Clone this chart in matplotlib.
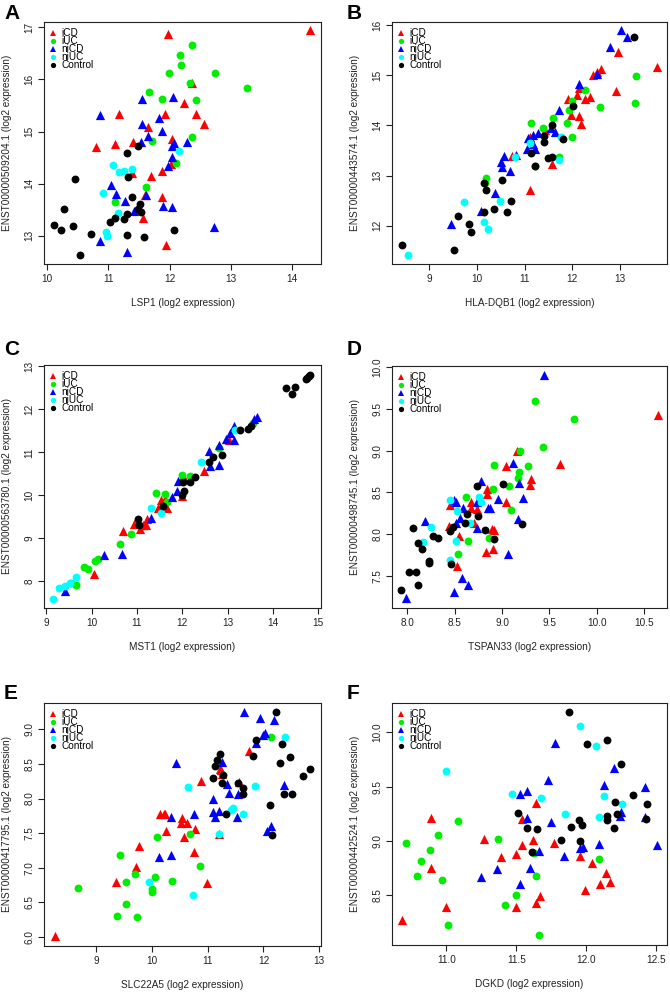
import matplotlib
matplotlib.use("Agg")
import matplotlib.pyplot as plt
from matplotlib.lines import Line2D

plt.rcParams['font.family'] = ['Liberation Sans', 'DejaVu Sans']

groups = ["iCD", "iUC", "niCD", "niUC", "Control"]
colors = {"iCD": "#FF0000", "iUC": "#00EE00", "niCD": "#0000FF", "niUC": "#00FFFF", "Control": "#000000"}
markers = {"iCD": "^", "iUC": "o", "niCD": "^", "niUC": "o", "Control": "o"}

# ---------------- Panel A ----------------
A_iCD = [(11.97,16.87),(14.30,16.95),(12.36,15.94),(12.23,15.54),(11.17,15.33),(11.93,15.33),(12.44,15.34),
         (12.57,15.15),(11.64,15.08),(10.80,14.71),(11.11,14.77),(11.40,14.79),(12.04,14.85),(12.03,14.38),
         (11.70,14.14),(11.87,14.25),(11.38,14.21),(11.60,13.78),(11.87,13.75),(11.57,13.35),(11.95,12.83)]
A_iUC = [(12.36,16.65),(12.17,16.47),(12.19,16.28),(11.99,16.13),(12.74,16.13),(13.27,15.83),(12.34,15.94),
         (11.66,15.75),(11.87,15.62),(12.43,15.60),(11.71,14.82),(12.36,14.90),(12.10,14.39),(11.62,13.93),
         (11.11,13.65)]
A_niCD = [(10.86,15.32),(11.55,15.63),(12.06,15.66),(11.83,15.26),(11.55,15.15),(11.64,14.91),(11.87,15.01),
          (11.54,14.79),(12.08,14.78),(12.28,14.80),(12.04,14.73),(12.04,14.51),(11.98,14.33),(11.05,13.98),
          (11.12,13.80),(11.61,13.78),(11.27,13.66),(11.90,13.58),(12.04,13.56),(11.42,13.47),(12.73,13.16),
          (10.86,12.90),(11.30,12.69)]
A_niUC = [(12.15,14.63),(11.08,14.35),(11.38,14.29),(11.25,14.25),(11.17,14.23),(10.91,13.82),(11.15,13.43),
          (10.96,13.08),(10.97,13.00)]
A_Control = [(11.49,14.73),(11.30,14.58),(11.32,14.13),(10.45,14.09),(10.27,13.51),(11.38,13.75),(11.52,13.61),
             (11.49,13.52),(11.54,13.45),(11.30,13.42),(11.10,13.34),(11.26,13.33),(11.03,13.26),(10.11,13.20),
             (10.42,13.19),(10.22,13.11),(12.07,13.12),(10.71,13.03),(11.30,13.01),(11.58,12.97),(10.54,12.64)]

# ---------------- Panel B ----------------
B_iCD = [(13.78,15.16),(12.96,15.46),(12.59,15.12),(12.43,15.00),(12.52,15.06),(12.91,14.68),(12.13,14.74),
         (12.09,14.61),(12.36,14.56),(12.26,14.53),(11.91,14.53),(11.97,14.21),(12.14,14.19),(12.19,14.03),
         (11.42,13.91),(11.12,13.76),(10.73,13.40),(11.58,13.24),(11.12,12.71)]
B_iUC = [(13.34,14.98),(13.30,14.45),(12.58,14.37),(12.27,14.71),(11.99,14.48),(11.93,14.30),(11.60,14.15),
         (11.13,14.05),(11.88,14.05),(11.38,13.95),(11.99,13.77),(11.72,13.38),(11.22,13.20),(10.19,12.96),
         (10.17,12.85)]
B_niCD = [(13.01,15.90),(13.14,15.77),(12.79,15.57),(12.52,15.03),(12.13,14.82),(11.72,14.30),(11.55,13.94),
          (11.64,13.86),(11.28,13.85),(11.18,13.81),(11.07,13.75),(11.18,13.63),(11.04,13.53),(11.21,13.53),
          (10.57,13.39),(10.83,13.42),(10.51,13.27),(10.53,13.18),(10.70,13.09),(10.38,12.66),(10.08,12.29),
          (9.46,12.04)]
B_niUC = [(10.79,13.38),(11.12,13.65),(11.76,13.76),(11.71,13.32),(9.74,12.47),(10.49,12.49),(10.15,12.08),
          (10.24,11.93),(8.55,11.42)]
B_Control = [(13.28,15.77),(12.02,14.38),(11.58,14.01),(11.40,13.79),(11.40,13.67),(11.81,13.73),(11.13,13.46),
             (11.50,13.36),(11.57,13.38),(11.21,13.20),(10.52,12.92),(10.15,12.85),(10.20,12.71),(10.71,12.50),
             (10.35,12.33),(10.16,12.28),(10.64,12.28),(9.60,12.19),(9.84,12.04),(9.88,11.87),(8.43,11.61),
             (9.53,11.51)]

# ---------------- Panel C ----------------
C_iCD = [(13.03,11.29),(12.47,10.56),(12.02,10.45),(11.99,9.98),(11.54,9.88),(11.61,9.92),(11.46,9.70),
         (11.67,9.70),(11.23,9.46),(11.19,9.32),(11.14,9.30),(11.06,9.21),(10.93,9.33),(10.70,9.18),(10.06,8.18)]
C_iUC = [(13.55,11.68),(12.82,11.10),(12.16,10.45),(11.99,10.48),(11.61,10.04),(11.43,10.05),(11.67,9.84),
         (10.88,9.11),(10.62,8.87),(10.14,8.53),(10.08,8.48),(9.84,8.34),(9.92,8.28),(9.55,7.96),(9.66,7.91)]
C_niCD = [(13.64,11.83),(13.58,11.78),(13.15,11.62),(13.15,11.29),(13.05,11.45),(12.96,11.31),(12.81,11.17),
          (12.58,11.02),(12.61,10.68),(12.82,10.70),(11.91,10.34),(11.89,10.10),(11.78,9.97),(11.31,9.48),
          (10.66,8.64),(10.27,8.62),(9.41,7.78)]
C_niUC = [(13.17,11.51),(12.42,10.77),(11.32,9.70),(11.54,9.59),(9.66,8.10),(9.52,7.95),(9.29,7.85),
          (9.41,7.88),(9.15,7.58)]
C_Control = [(14.80,12.78),(14.76,12.72),(14.82,12.80),(14.72,12.71),(14.28,12.49),(14.41,12.36),(14.48,12.53),
             (13.27,11.53),(13.44,11.55),(13.51,11.61),(12.88,10.93),(12.68,10.88),(12.60,10.77),(12.29,10.42),
             (12.18,10.30),(12.02,10.31),(12.04,10.10),(11.99,10.01),(11.57,9.76),(11.03,9.45),(11.04,9.32)]

# ---------------- Panel D ----------------
D_iCD = [(10.64,9.42),(9.61,8.84),(9.16,8.99),(9.04,8.81),(9.31,8.66),(9.29,8.59),(8.84,8.54),(8.84,8.48),
         (9.04,8.39),(8.67,8.39),(8.45,8.35),(8.67,8.31),(8.74,8.30),(8.70,8.14),(8.44,8.10),(8.55,7.98),
         (8.89,8.06),(8.92,8.05),(8.83,7.79),(8.91,7.83),(8.53,7.62)]
D_iUC = [(9.35,9.59),(9.76,9.38),(9.43,9.04),(9.19,8.99),(8.92,8.83),(9.27,8.81),(9.18,8.75),(9.17,8.67),
         (8.91,8.54),(9.07,8.58),(8.62,8.45),(9.09,8.29),(8.86,7.96),(8.64,7.92),(8.54,7.77)]
D_niCD = [(9.44,9.90),(9.12,8.85),(8.78,8.64),(9.18,8.61),(9.22,8.43),(8.96,8.42),(8.49,8.41),(8.51,8.38),
          (8.74,8.38),(8.59,8.31),(8.85,8.31),(8.87,8.31),(8.56,8.19),(8.52,8.14),(9.17,8.18),(8.74,8.08),
          (8.19,8.16),(9.06,7.77),(8.58,7.48),(8.64,7.40),(8.49,7.31),(7.99,7.24)]
D_niUC = [(8.45,8.41),(8.76,8.45),(8.78,8.38),(8.53,8.28),(8.66,8.14),(8.25,8.09),(8.17,7.91),(8.51,7.92),
          (8.45,7.69)]
D_Control = [(8.74,8.58),(9.01,8.60),(8.75,8.22),(8.63,8.24),(8.61,8.14),(8.48,8.09),(8.45,8.04),(8.82,8.05),
             (9.21,8.12),(8.92,7.94),(8.06,8.08),(8.27,7.98),(8.32,7.95),(8.11,7.90),(8.16,7.83),(8.23,7.68),
             (8.23,7.66),(8.02,7.55),(8.09,7.55),(8.46,7.64),(8.11,7.40),(7.94,7.34)]

# ---------------- Panel E ----------------
E_iCD = [(8.27,6.02),(9.36,6.79),(9.71,7.01),(9.78,7.31),(10.76,7.23),(10.98,6.78),(10.25,7.53),(10.58,7.44),
         (10.77,7.56),(10.54,7.72),(10.63,7.65),(10.53,7.65),(10.14,7.78),(10.24,7.77),(10.21,7.78),(10.89,8.26),
         (11.20,7.49),(11.24,8.41),(11.22,8.42),(11.26,8.36),(11.56,8.24),(11.74,8.69)]
E_iUC = [(8.68,6.71),(9.43,7.19),(9.38,6.30),(9.53,6.79),(9.53,6.47),(9.70,6.91),(9.74,6.29),(10.00,6.65),
         (10.01,6.70),(10.06,6.86),(10.10,7.44),(10.37,6.81),(10.69,7.49),(10.87,7.02),(12.14,8.89)]
E_niCD = [(11.66,9.25),(11.94,9.17),(12.19,9.14),(11.99,8.92),(12.03,8.95),(11.86,8.80),(10.43,8.52),
          (11.25,8.53),(11.34,8.21),(11.38,8.08),(11.54,8.07),(12.37,8.19),(11.10,8.00),(10.76,7.78),
          (11.10,7.80),(11.21,7.82),(11.13,7.73),(11.52,7.74),(10.34,7.74),(12.13,7.61),(12.07,7.53),
          (10.13,7.15),(10.34,7.18)]
E_niUC = [(12.38,8.89),(10.65,8.16),(11.84,8.18),(11.46,7.87),(11.42,7.84),(11.63,7.77),(11.20,7.49),
          (9.95,6.80),(10.73,6.60)]
E_Control = [(12.23,9.25),(11.86,8.84),(12.33,8.79),(11.82,8.61),(11.23,8.64),(11.17,8.56),(11.14,8.47),
             (12.47,8.60),(12.30,8.52),(12.84,8.43),(12.70,8.32),(11.10,8.29),(11.27,8.34),(11.26,8.23),
             (11.55,8.22),(11.63,8.15),(11.64,8.06),(12.36,8.06),(12.51,8.07),(12.12,7.90),(11.33,7.78),
             (12.16,7.48)]

# ---------------- Panel F ----------------
F_iCD = [(10.68,8.27),(10.89,9.21),(10.89,8.75),(11.00,8.39),(11.27,9.02),(11.39,8.85),(11.50,8.88),
         (11.54,8.96),(11.54,9.20),(11.62,9.01),(11.64,9.35),(11.50,8.39),(11.64,8.43),(11.67,8.49),
         (11.77,8.98),(11.96,8.86),(12.04,8.80),(12.14,8.70),(12.17,8.62),(12.10,8.60),(11.99,8.55)]
F_iUC = [(10.71,8.98),(10.79,8.68),(10.82,8.81),(10.88,8.92),(10.94,9.05),(10.97,8.64),(11.08,9.18),
         (11.01,8.22),(11.37,9.02),(11.42,8.41),(11.50,8.50),(11.63,8.89),(11.64,8.68),(11.66,8.13),(12.09,8.83)]
F_niCD = [(11.78,9.90),(12.20,9.67),(11.73,9.56),(11.58,9.46),(11.53,9.43),(12.13,9.51),(12.42,9.50),
          (11.58,9.21),(11.75,9.17),(12.25,9.27),(12.24,9.23),(12.42,9.22),(11.25,8.67),(11.36,8.74),
          (11.53,8.60),(11.60,8.75),(11.66,8.91),(11.84,8.86),(11.96,8.93),(11.98,8.94),(12.09,8.97),(12.51,8.96)]
F_niUC = [(11.00,9.64),(11.47,9.43),(11.68,9.39),(11.96,10.06),(12.07,9.87),(11.85,9.25),(12.13,9.41),
          (12.09,9.22),(12.26,9.34)]
F_Control = [(11.88,10.19),(12.01,9.89),(12.15,9.93),(12.25,9.71),(12.34,9.42),(12.44,9.34),(12.21,9.36),
             (11.51,9.26),(11.58,9.12),(11.65,9.11),(11.61,8.90),(11.82,9.01),(11.89,9.13),(11.95,9.19),
             (11.97,9.15),(11.96,9.00),(12.15,9.23),(12.15,9.19),(12.22,9.25),(12.20,9.12),(12.43,9.20)]

# axis text / ticks
x_labels = ["LSP1 (log2 expression)", "HLA-DQB1 (log2 expression)", "MST1 (log2 expression)",
            "TSPAN33 (log2 expression)", "SLC22A5 (log2 expression)", "DGKD (log2 expression)"]
y_labels = ["ENST00000509204.1 (log2 expression)", "ENST00000443574.1 (log2 expression)",
            "ENST00000563780.1 (log2 expression)", "ENST00000498745.1 (log2 expression)",
            "ENST00000417795.1 (log2 expression)", "ENST00000442524.1 (log2 expression)"]
x_ticks = [[10, 11, 12, 13, 14], [9, 10, 11, 12, 13], [9, 10, 11, 12, 13, 14, 15],
           [8.0, 8.5, 9.0, 9.5, 10.0, 10.5], [9, 10, 11, 12, 13], [11.0, 11.5, 12.0, 12.5]]
y_ticks = [[13, 14, 15, 16, 17], [12, 13, 14, 15, 16], [8, 9, 10, 11, 12, 13],
           [7.5, 8.0, 8.5, 9.0, 9.5, 10.0], [6.0, 6.5, 7.0, 7.5, 8.0, 8.5, 9.0], [8.5, 9.0, 9.5, 10.0]]
x_fmt = ["{:.0f}", "{:.0f}", "{:.0f}", "{:.1f}", "{:.0f}", "{:.1f}"]
y_fmt = ["{:.0f}", "{:.0f}", "{:.0f}", "{:.1f}", "{:.1f}", "{:.1f}"]
panel_letters = ["A", "B", "C", "D", "E", "F"]

panels = [
    [A_iCD, A_iUC, A_niCD, A_niUC, A_Control],
    [B_iCD, B_iUC, B_niCD, B_niUC, B_Control],
    [C_iCD, C_iUC, C_niCD, C_niUC, C_Control],
    [D_iCD, D_iUC, D_niCD, D_niUC, D_Control],
    [E_iCD, E_iUC, E_niCD, E_niUC, E_Control],
    [F_iCD, F_iUC, F_niCD, F_niUC, F_Control],
]

# layout (figure pixel boxes: left, top, right, bottom)
W, H = 670, 992
boxes = [(44, 22, 321, 264), (392, 22, 667, 264),
         (44, 365, 321, 608), (392, 366, 667, 608),
         (44, 703, 321, 946), (392, 703, 667, 945)]
xlims = [(9.945, 14.48), (8.225, 13.98), (8.95, 15.06), (7.84, 10.74), (8.07, 13.03), (10.61, 12.58)]
ylims = [(12.46, 17.10), (11.24, 16.06), (7.38, 13.03), (7.12, 10.01), (5.87, 9.38), (8.04, 10.27)]
letter_pos = [(4, 4), (347, 4), (4, 340), (347, 340), (4, 684), (347, 684)]

fig = plt.figure(figsize=(W / 100, H / 100), dpi=100)
fs = 7.2

for i, data in enumerate(panels):
    l, t, r, b = boxes[i]
    ax = fig.add_axes([l / W, 1 - b / H, (r - l) / W, (b - t) / H])
    for g, pts in zip(groups, data):
        xs = [p[0] for p in pts]
        ys = [p[1] for p in pts]
        ax.scatter(xs, ys, marker=markers[g], c=colors[g],
                   s=44 if markers[g] == "^" else 32, linewidths=0, zorder=3)
    ax.set_xlim(*xlims[i])
    ax.set_ylim(*ylims[i])
    ax.set_xticks(x_ticks[i])
    ax.set_xticklabels([x_fmt[i].format(v) for v in x_ticks[i]])
    ax.set_yticks(y_ticks[i])
    ax.set_yticklabels([y_fmt[i].format(v) for v in y_ticks[i]], rotation=90, va="center")
    ax.tick_params(direction="out", length=4, width=0.8, labelsize=fs, colors="#222222", pad=3)
    ax.tick_params(axis="y", pad=3)
    for sp in ax.spines.values():
        sp.set_linewidth(0.8)
        sp.set_color("#222222")
    ax.set_xlabel(x_labels[i], fontsize=fs, labelpad=10, color="#222222")
    ax.set_ylabel(y_labels[i], fontsize=fs, labelpad=9, color="#222222")
    handles = [Line2D([], [], marker=markers[g], color=colors[g], linestyle="none",
                      markersize=4.2 if markers[g] == "^" else 3.8, markeredgewidth=0) for g in groups]
    leg = ax.legend(handles, groups, loc="upper left", bbox_to_anchor=(0.0, 1.0), frameon=False,
                    fontsize=fs, handlelength=0.6, handletextpad=0.5, labelspacing=-0.2,
                    borderaxespad=0.3, borderpad=0.3)
    lx, ly = letter_pos[i]
    fig.text(lx / W, 1 - ly / H, panel_letters[i], fontsize=15, fontweight="bold", ha="left", va="top")

fig.savefig("out.png", dpi=100)
